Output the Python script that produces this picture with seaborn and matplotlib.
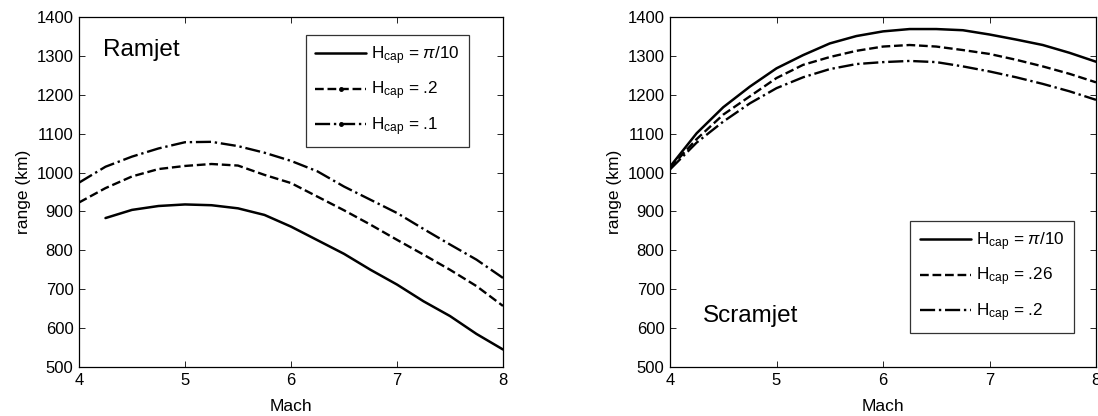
import numpy as np
import pandas as pd
import seaborn as sns
import matplotlib.pyplot as plt
from matplotlib.lines import Line2D

# ---- data ----
mach = [4.0, 4.25, 4.5, 4.75, 5.0, 5.25, 5.5, 5.75, 6.0, 6.25, 6.5, 6.75, 7.0, 7.25, 7.5, 7.75, 8.0]

# Ramjet (solid curve starts at Mach 4.25)
ramjet_pi10 = [np.nan, 883, 904, 914, 918, 916, 908, 891, 861, 826, 791, 750, 712, 669, 631, 585, 545]
ramjet_02 = [923, 960, 990, 1009, 1017, 1022, 1018, 994, 973, 938, 903, 866, 827, 789, 750, 708, 657]
ramjet_01 = [974, 1015, 1041, 1062, 1078, 1079, 1068, 1051, 1030, 1003, 964, 930, 896, 855, 815, 776, 729]

# Scramjet
scram_pi10 = [1015, 1101, 1168, 1221, 1268, 1302, 1332, 1351, 1363, 1369, 1369, 1366, 1355, 1342, 1328, 1308, 1285]
scram_026 = [1012, 1086, 1149, 1196, 1243, 1277, 1297, 1313, 1324, 1328, 1324, 1315, 1305, 1290, 1273, 1254, 1232]
scram_02 = [1008, 1077, 1131, 1178, 1217, 1245, 1266, 1279, 1284, 1287, 1284, 1273, 1260, 1245, 1228, 1209, 1187]

ramjet_labels = [r"H$_{cap}$ = $\mathit{\pi}$/10", r"H$_{cap}$ = .2", r"H$_{cap}$ = .1"]
scram_labels = [r"H$_{cap}$ = $\mathit{\pi}$/10", r"H$_{cap}$ = .26", r"H$_{cap}$ = .2"]

sns.set_style("ticks")
plt.rcParams["font.family"] = ["Liberation Sans", "DejaVu Sans"]
plt.rcParams["mathtext.fontset"] = "custom"
plt.rcParams["mathtext.rm"] = "Liberation Sans"
plt.rcParams["mathtext.it"] = "Liberation Sans:italic"
plt.rcParams["mathtext.default"] = "regular"
for key in ("text.color", "axes.labelcolor", "xtick.color", "ytick.color", "axes.edgecolor"):
    plt.rcParams[key] = "black"

styles = ["-", "--", "-."]
widths = [1.8, 1.7, 1.7]

fig = plt.figure(figsize=(10.98, 4.16), dpi=100)
ax1 = fig.add_axes([79 / 1098, 49 / 416, 424 / 1098, 350 / 416])
ax2 = fig.add_axes([670 / 1098, 49 / 416, 426 / 1098, 350 / 416])


def draw(ax, series, with_dots):
    for ys, ls, lw in zip(series, styles, widths):
        df = pd.DataFrame({"Mach": mach, "range": ys}).dropna()
        sns.lineplot(data=df, x="Mach", y="range", ax=ax, color="black",
                     linestyle=ls, linewidth=lw)
    handles = []
    for i, (ls, lw) in enumerate(zip(styles, widths)):
        mk = "." if (with_dots and i > 0) else None
        handles.append(Line2D([], [], color="black", linestyle=ls, linewidth=lw,
                              marker=mk, markersize=5))
    return handles


h1 = draw(ax1, [ramjet_pi10, ramjet_02, ramjet_01], True)
h2 = draw(ax2, [scram_pi10, scram_026, scram_02], False)

for ax in (ax1, ax2):
    ax.set_xlim(4, 8)
    ax.set_ylim(500, 1400)
    ax.set_xticks([4, 5, 6, 7, 8])
    ax.set_yticks(range(500, 1401, 100))
    ax.tick_params(direction="in", top=True, right=True, length=4, width=0.6,
                   labelsize=12, pad=4)
    for s in ax.spines.values():
        s.set_linewidth(0.9)
        s.set_visible(True)
    ax.set_xlabel("Mach", fontsize=12.5, labelpad=8)
    ax.set_ylabel("range (km)", fontsize=12.5, labelpad=4)

leg_kw = dict(fontsize=12.3, handlelength=3.0, frameon=True, fancybox=False,
              edgecolor="black", borderpad=0.55, labelspacing=0.75,
              handletextpad=0.3, borderaxespad=0)
leg1 = ax1.legend(h1, ramjet_labels, loc="upper right",
                  bbox_to_anchor=(0.92, 0.949), **leg_kw)
leg1.get_frame().set_linewidth(0.9)
leg2 = ax2.legend(h2, scram_labels, loc="lower right",
                  bbox_to_anchor=(0.948, 0.097), **leg_kw)
leg2.get_frame().set_linewidth(0.9)

ax1.text(0.057, 0.905, "Ramjet", transform=ax1.transAxes, fontsize=17.5, va="center")
ax2.text(0.078, 0.145, "Scramjet", transform=ax2.transAxes, fontsize=17.5, va="center")

fig.savefig("out.png", dpi=100)
